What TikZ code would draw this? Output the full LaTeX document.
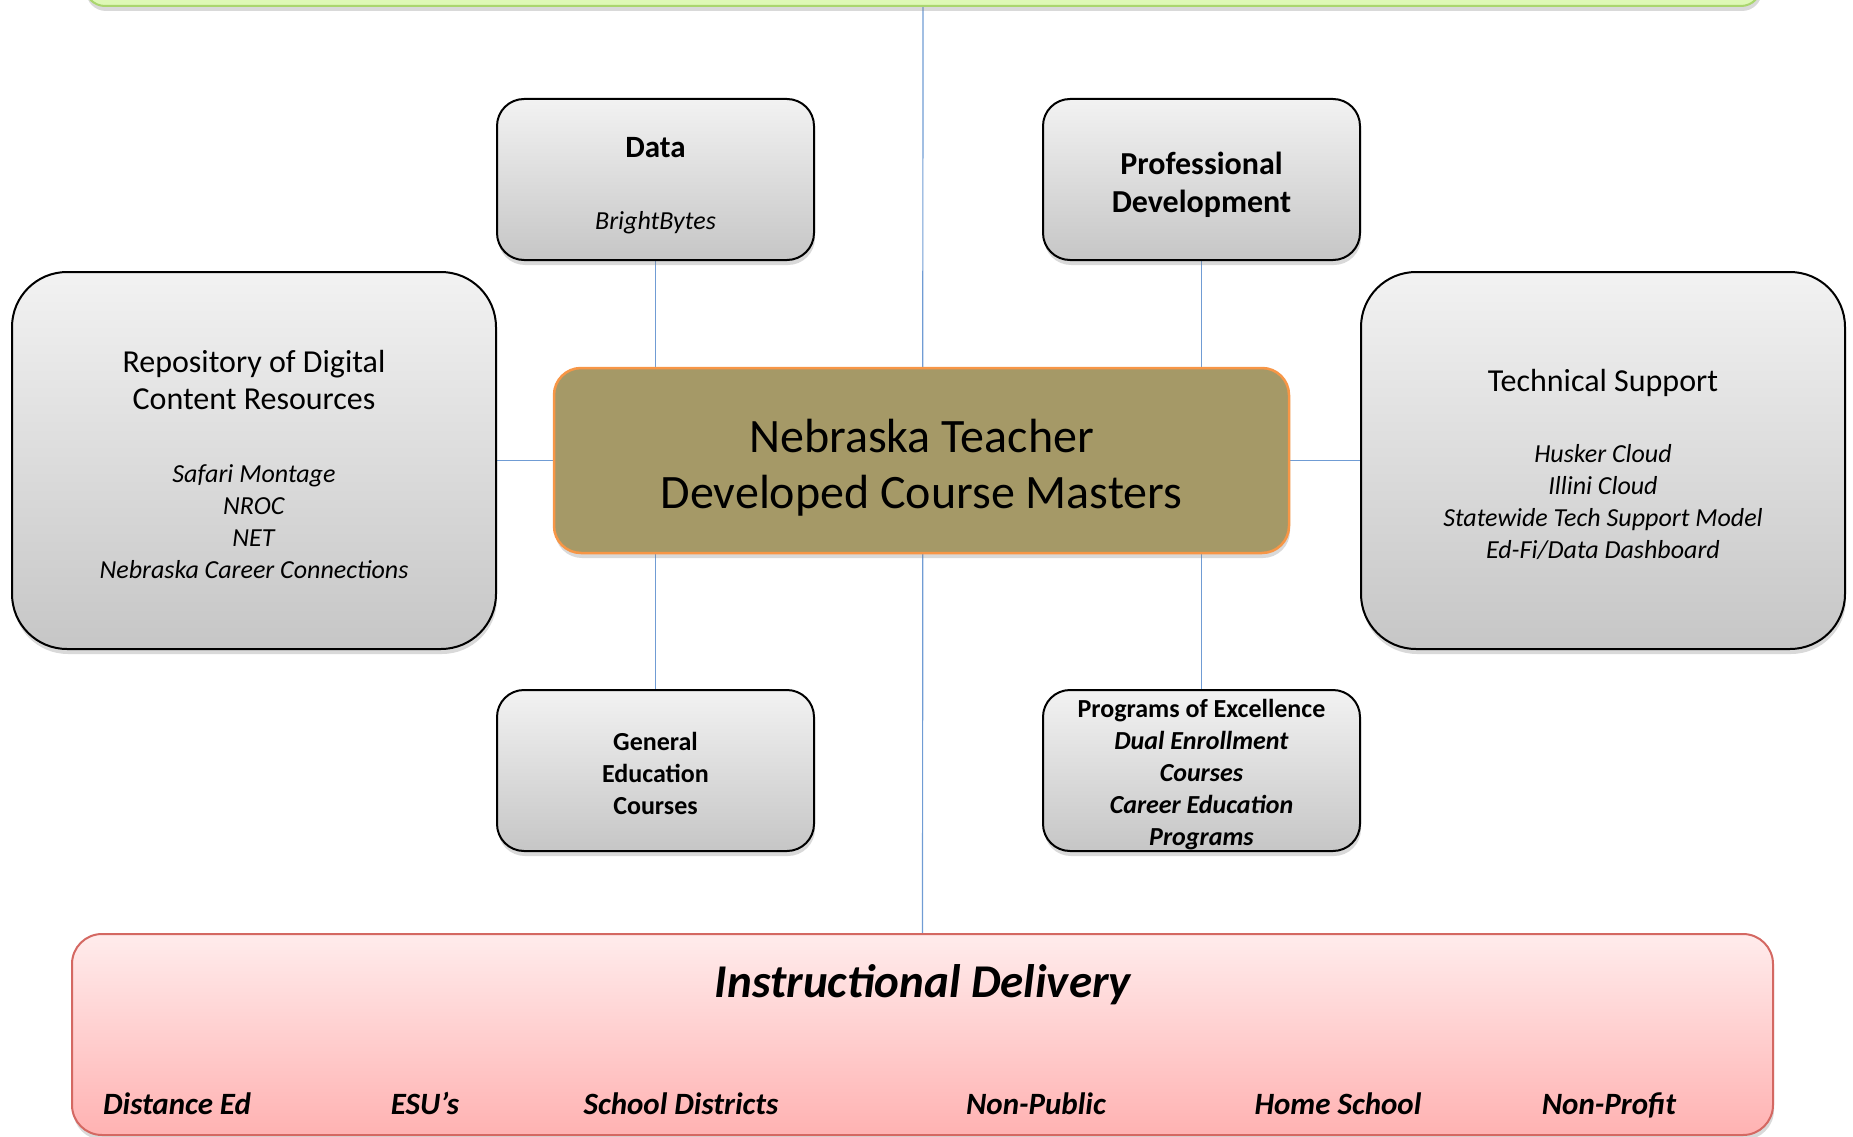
\documentclass[tikz,border=0pt]{standalone}
\usepackage{fontspec}
\setmainfont{Carlito}
\usetikzlibrary{shadows,backgrounds}

\definecolor{boxtop}{RGB}{242,242,242}
\definecolor{boxbot}{RGB}{198,198,198}
\definecolor{ctrfill}{RGB}{165,153,103}
\definecolor{ctrline}{RGB}{247,150,70}
\definecolor{delivtop}{RGB}{255,236,236}
\definecolor{delivbot}{RGB}{255,178,178}
\definecolor{delivline}{RGB}{212,104,98}
\definecolor{topfill}{RGB}{222,248,182}
\definecolor{topline}{RGB}{170,214,110}
\definecolor{linkblue}{RGB}{112,156,212}

\newcommand{\topgap}[1]{\rule{0pt}{#1}}

\begin{document}
\begin{tikzpicture}[x=1pt, y=-1pt,
    softshadow/.style={drop shadow={shadow xshift=1pt, shadow yshift=-5pt, opacity=0.3}},
    graybox/.style={draw=black, line width=2pt, rounded corners=27pt, top color=boxtop, bottom color=boxbot, softshadow, align=center, inner sep=0pt, minimum width=317pt, minimum height=161pt},
    bigbox/.style={graybox, rounded corners=55pt, minimum width=484pt, minimum height=377pt},
    deliv label/.style={anchor=base, font=\bfseries\itshape\fontsize{31}{36}\selectfont},
    link/.style={draw=linkblue, line width=1.2pt}]
            \useasboundingbox (0,0) rectangle (1853,1137);

            % outer bands
            \node[draw=topline, fill=topfill, line width=2pt, rounded corners=20pt, minimum width=1676pt, minimum height=200pt, softshadow] (top) at (923,-94) {};
            \node[draw=delivline, line width=2pt, rounded corners=30pt, top color=delivtop, bottom color=delivbot, softshadow, minimum width=1701pt, minimum height=201pt] (deliv) at (922.5,1034.5) {};

            % middle
            \node[draw=ctrline, fill=ctrfill, line width=2.5pt, rounded corners=27pt, softshadow, minimum width=735pt, minimum height=185pt, align=center, font=\fontsize{48}{56}\selectfont] (ctr) at (921.5,460.5) {\topgap{48pt}Nebraska Teacher\\Developed Course Masters};

            \node[graybox, font=\fontsize{26}{32}\selectfont] (data) at (655.5,179.5) {{\bfseries\fontsize{31}{32}\selectfont\topgap{32pt}Data}\\[40pt]\textit{BrightBytes}};
            \node[graybox, font=\bfseries\fontsize{32}{38}\selectfont] (pd) [right of=data, node distance=546pt] {\topgap{33pt}Professional\\Development};
            \node[graybox, font=\bfseries\fontsize{26}{32}\selectfont] (general) [below of=data, node distance=591pt] {\topgap{23.5pt}General\\Education\\Courses};
            \node[graybox, font=\bfseries\fontsize{26}{32}\selectfont] (prog) [right of=general, node distance=546pt] {\topgap{25.5pt}Programs of Excellence\\\textit{Dual Enrollment}\\\textit{Courses}\\\textit{Career Education}\\\textit{Programs}};

            \node[bigbox, font=\fontsize{26}{32}\selectfont] (repo) at (254,460.5) {{\fontsize{32}{32}\selectfont\topgap{30pt}Repository of Digital}\\[5pt]{\fontsize{32}{32}\selectfont Content Resources}\\[41pt]\textit{Safari Montage}\\\textit{NROC}\\\textit{NET}\\\textit{Nebraska Career Connections}};
            \node[bigbox, font=\fontsize{26}{32}\selectfont] (tech) [right of=repo, node distance=1349pt] {{\fontsize{32}{32}\selectfont\topgap{30pt}Technical Support}\\[39pt]\textit{Husker Cloud}\\\textit{Illini Cloud}\\\textit{Statewide Tech Support Model}\\\textit{Ed-Fi/Data Dashboard}};

            % delivery texts
            \node[anchor=base, font=\bfseries\itshape\fontsize{47}{52}\selectfont] (delivtitle) at (923,997) {Instructional Delivery};
            \node[deliv label] (distance) at (177,1114) {Distance Ed};
            \node[deliv label] (esu) at (425,1114) {ESU’s};
            \node[deliv label] (districts) at (681,1114) {School Districts};
            \node[deliv label] (nonpublic) at (1036,1114) {Non-Public};
            \node[deliv label] (home) at (1338,1114) {Home School};
            \node[deliv label] (nonprofit) at (1609,1114) {Non-Profit};

            \begin{scope}[on background layer]
            \draw [link]  (top) edge (deliv)
                          (data) edge (general)
                          (pd) edge (prog)
                          (repo) edge (tech);
            \end{scope}
        \end{tikzpicture}
\end{document}
